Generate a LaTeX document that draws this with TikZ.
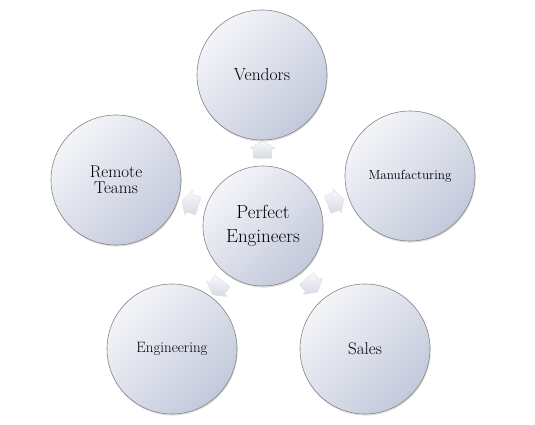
\documentclass[tikz,border=0pt]{standalone}
\usepackage{tikz}
\usetikzlibrary{calc,shapes.arrows,shadows}
\definecolor{ballhi}{HTML}{F4F5F9}
\definecolor{balllo}{HTML}{C3C9DB}
\definecolor{ballrim}{HTML}{858585}
\definecolor{arrhi}{HTML}{F8F9FB}
\definecolor{arrlo}{HTML}{D8DBE4}

\begin{document}
\begin{tikzpicture}[x=1pt, y=1pt]
    % Define styles
    \tikzstyle{hub} = [circle, minimum size=120pt, inner sep=0pt, align=center, draw=ballrim, line width=0.6pt, top color=ballhi, bottom color=balllo, shading angle=45, drop shadow={opacity=0.25, shadow xshift=0.6pt, shadow yshift=-1.6pt}]
    \tikzstyle{spoke} = [hub, minimum size=130pt]
    \tikzstyle{pointer} = [single arrow, minimum height=17pt, inner xsep=0pt, inner ysep=9pt, single arrow head extend=3.5pt, single arrow tip angle=120, draw=arrlo, line width=0.3pt, top color=arrhi, bottom color=arrlo, drop shadow={opacity=0.15, shadow xshift=0.5pt, shadow yshift=-1pt}]

    \useasboundingbox (0,0) rectangle (535,425);

    % Circles
    \node [hub, font=\fontsize{19}{24}\selectfont] (engineers) at (263,199) {Perfect\\Engineers};
    \node [spoke, font=\fontsize{17.5}{20}\selectfont] (vendors) at (262,350) {Vendors};
    \node [spoke, font=\fontsize{13.2}{15}\selectfont] (manufacturing) at (410,249) {Manufacturing};
    \node [spoke, font=\fontsize{17}{20}\selectfont] (sales) at (365,76) {Sales};
    \node [spoke, font=\fontsize{15}{17}\selectfont] (engineering) at (172,76) {Engineering};
    \node [spoke, font=\fontsize{17}{16}\selectfont] (remote) at (116,245) {Remote\\Teams};

    % Arrows pointing outwards
    \foreach \target/\angle in {vendors/90, manufacturing/18.8, sales/-50.3, engineering/233.5, remote/162.6}
        \node [pointer, rotate=\angle] (to-\target) at ($(engineers)!74pt!(\target)$) {};
\end{tikzpicture}
\end{document}
